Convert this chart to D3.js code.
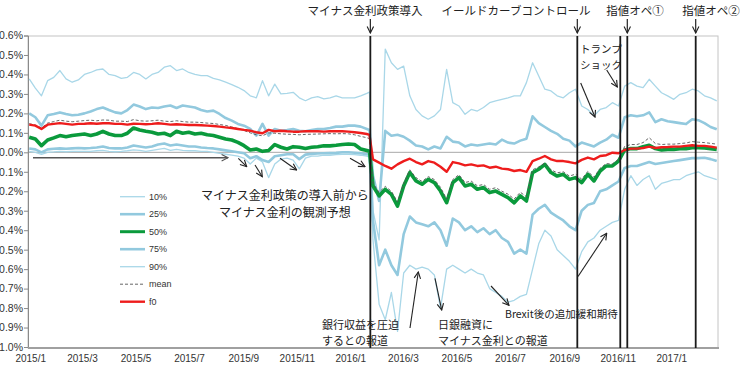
<!DOCTYPE html>
<html>
<head>
<meta charset="utf-8">
<script src="https://cdn.jsdelivr.net/npm/d3@7"></script>
<style>
  body { margin: 0; background: #fff; }
  svg { display: block; font-family: "Liberation Sans", Arial, sans-serif; }
  .jp { font-family: "Noto Sans CJK JP", sans-serif; fill: #222; }
</style>
</head>
<body>
<svg id="chart" width="741" height="389"></svg>
<script>
// weekly observations (plus the last day before the policy change)
var dates = [
  "2015/01/05","2015/01/12","2015/01/19","2015/01/26","2015/02/02","2015/02/09","2015/02/16","2015/02/23","2015/03/02","2015/03/09",
  "2015/03/16","2015/03/23","2015/03/30","2015/04/06","2015/04/13","2015/04/20","2015/04/27","2015/05/04","2015/05/11","2015/05/18",
  "2015/05/25","2015/06/01","2015/06/08","2015/06/15","2015/06/22","2015/06/29","2015/07/06","2015/07/13","2015/07/20","2015/07/27",
  "2015/08/03","2015/08/10","2015/08/17","2015/08/24","2015/08/31","2015/09/07","2015/09/14","2015/09/21","2015/09/28","2015/10/05",
  "2015/10/12","2015/10/19","2015/10/26","2015/11/02","2015/11/09","2015/11/16","2015/11/23","2015/11/30","2015/12/07","2015/12/14",
  "2015/12/21","2015/12/28","2016/01/04","2016/01/11","2016/01/18","2016/01/25","2016/01/28",
  "2016/02/01","2016/02/08","2016/02/15","2016/02/22","2016/02/29","2016/03/07","2016/03/14","2016/03/21","2016/03/28","2016/04/04",
  "2016/04/11","2016/04/18","2016/04/25","2016/05/02","2016/05/09","2016/05/16","2016/05/23","2016/05/30","2016/06/06","2016/06/13",
  "2016/06/20","2016/06/27","2016/07/04","2016/07/11","2016/07/18","2016/07/25","2016/08/01","2016/08/08","2016/08/15","2016/08/22",
  "2016/08/29","2016/09/05","2016/09/12","2016/09/19","2016/09/26","2016/10/03","2016/10/10","2016/10/17","2016/10/24","2016/10/31",
  "2016/11/07","2016/11/14","2016/11/21","2016/11/28","2016/12/05","2016/12/12","2016/12/19","2016/12/26","2017/01/02","2017/01/09",
  "2017/01/16","2017/01/23","2017/01/30","2017/02/06","2017/02/13","2017/02/20","2017/02/27"
];

var p10 = [
  0.005, 0.000, -0.010, 0.000, 0.002, 0.005, 0.003, 0.005, 0.005, 0.005,
  0.005, 0.008, 0.010, 0.005, 0.003, 0.005, 0.008, 0.012, 0.010, 0.005,
  0.010, 0.015, 0.020, 0.010, 0.015, 0.010, 0.008, 0.008, 0.005, 0.005,
  0.000, -0.005, -0.010, -0.015, -0.020, -0.030, -0.060, -0.030, -0.050, -0.130,
  -0.060, -0.035, -0.030, -0.040, -0.085, -0.030, -0.020, -0.020, -0.015, -0.015,
  -0.012, -0.010, -0.010, -0.012, -0.015, -0.020, -0.025,
  -0.450, -0.780, -0.860, -0.720, -0.920, -0.620, -0.580, -0.600, -0.590, -0.600,
  -0.630, -0.800, -0.600, -0.580, -0.600, -0.620, -0.600, -0.620, -0.630, -0.700,
  -0.720, -0.740, -0.770, -0.760, -0.740, -0.730, -0.600, -0.470, -0.400, -0.430,
  -0.500, -0.530, -0.560, -0.600, -0.510, -0.460, -0.440, -0.400, -0.380, -0.360,
  -0.350, -0.190, -0.120, -0.170, -0.140, -0.120, -0.190, -0.160, -0.150, -0.140,
  -0.140, -0.120, -0.110, -0.100, -0.120, -0.130, -0.140
];

var p25 = [
  0.020, 0.015, 0.000, 0.015, 0.018, 0.020, 0.018, 0.020, 0.022, 0.020,
  0.022, 0.025, 0.030, 0.022, 0.020, 0.020, 0.025, 0.035, 0.030, 0.025,
  0.030, 0.040, 0.045, 0.035, 0.040, 0.035, 0.030, 0.030, 0.025, 0.022,
  0.020, 0.015, 0.010, 0.005, 0.000, -0.005, -0.030, -0.020, -0.040, -0.050,
  -0.020, -0.015, -0.010, -0.010, -0.035, -0.012, -0.008, -0.006, -0.005, -0.004,
  -0.003, 0.000, 0.000, -0.002, -0.005, -0.010, -0.012,
  -0.350, -0.580, -0.500, -0.580, -0.630, -0.420, -0.330, -0.360, -0.370, -0.380,
  -0.360, -0.400, -0.480, -0.340, -0.360, -0.400, -0.380, -0.410, -0.390, -0.420,
  -0.400, -0.440, -0.460, -0.520, -0.500, -0.520, -0.320, -0.290, -0.270, -0.310,
  -0.330, -0.350, -0.380, -0.400, -0.300, -0.270, -0.260, -0.200, -0.190, -0.170,
  -0.150, -0.080, -0.070, -0.070, -0.060, -0.050, -0.060, -0.055, -0.050, -0.045,
  -0.040, -0.035, -0.030, -0.030, -0.028, -0.035, -0.045
];

var p50 = [
  0.077, 0.068, 0.034, 0.063, 0.074, 0.086, 0.080, 0.086, 0.090, 0.094,
  0.086, 0.094, 0.108, 0.094, 0.086, 0.086, 0.098, 0.125, 0.115, 0.108,
  0.103, 0.094, 0.098, 0.086, 0.108, 0.098, 0.103, 0.094, 0.098, 0.090,
  0.086, 0.077, 0.068, 0.063, 0.051, 0.034, 0.012, 0.017, 0.005, 0.009,
  0.040, 0.026, 0.017, 0.029, 0.026, 0.020, 0.026, 0.029, 0.034, 0.033,
  0.036, 0.040, 0.043, 0.040, 0.017, 0.009, 0.005,
  -0.173, -0.224, -0.190, -0.216, -0.276, -0.173, -0.104, -0.147, -0.164, -0.139,
  -0.156, -0.199, -0.259, -0.156, -0.130, -0.173, -0.164, -0.190, -0.181, -0.207,
  -0.199, -0.216, -0.233, -0.259, -0.224, -0.250, -0.104, -0.087, -0.062, -0.104,
  -0.122, -0.113, -0.139, -0.130, -0.156, -0.113, -0.147, -0.096, -0.070, -0.070,
  -0.045, 0.012, 0.019, 0.019, 0.029, 0.036, 0.019, 0.012, 0.015, 0.015,
  0.019, 0.019, 0.024, 0.024, 0.022, 0.019, 0.015
];

var p75 = [
  0.200, 0.180, 0.137, 0.190, 0.197, 0.205, 0.197, 0.190, 0.193, 0.200,
  0.210, 0.222, 0.230, 0.217, 0.205, 0.200, 0.217, 0.245, 0.235, 0.222,
  0.230, 0.228, 0.235, 0.240, 0.228, 0.240, 0.235, 0.230, 0.217, 0.210,
  0.214, 0.197, 0.176, 0.163, 0.146, 0.137, 0.120, 0.086, 0.146, 0.086,
  0.120, 0.111, 0.115, 0.120, 0.111, 0.108, 0.115, 0.120, 0.120, 0.125,
  0.132, 0.132, 0.137, 0.137, 0.132, 0.120, 0.115,
  -0.120, -0.250, 0.110, 0.085, 0.090, 0.080, 0.060, 0.035, 0.030, 0.015,
  0.030, 0.020, 0.080, 0.055, 0.050, 0.030, 0.040, 0.035, 0.040, 0.045,
  0.040, 0.065, 0.050, 0.045, 0.060, 0.070, 0.185, 0.150, 0.130, 0.110,
  0.095, 0.070, 0.060, 0.030, 0.050, 0.040, 0.030, 0.050, 0.065, 0.090,
  0.075, 0.180, 0.190, 0.185, 0.190, 0.205, 0.155, 0.170, 0.160, 0.155,
  0.150, 0.145, 0.170, 0.165, 0.150, 0.130, 0.118
];

var p90 = [
  0.377, 0.330, 0.290, 0.368, 0.385, 0.420, 0.377, 0.360, 0.372, 0.400,
  0.410, 0.423, 0.428, 0.400, 0.394, 0.380, 0.385, 0.410, 0.400, 0.377,
  0.400, 0.410, 0.437, 0.445, 0.420, 0.428, 0.410, 0.400, 0.394, 0.394,
  0.380, 0.372, 0.360, 0.348, 0.334, 0.317, 0.290, 0.280, 0.368, 0.290,
  0.350, 0.300, 0.303, 0.308, 0.280, 0.265, 0.280, 0.286, 0.274, 0.280,
  0.290, 0.280, 0.280, 0.280, 0.290, 0.303, 0.310,
  -0.300, -0.450, 0.530, 0.460, 0.426, 0.443, 0.290, 0.220, 0.187, 0.170,
  0.187, 0.220, 0.426, 0.255, 0.238, 0.195, 0.220, 0.212, 0.230, 0.255,
  0.264, 0.272, 0.280, 0.290, 0.290, 0.358, 0.460, 0.392, 0.324, 0.315,
  0.290, 0.280, 0.306, 0.324, 0.238, 0.220, 0.187, 0.220, 0.230, 0.255,
  0.238, 0.340, 0.358, 0.340, 0.332, 0.375, 0.340, 0.306, 0.290, 0.272,
  0.298, 0.306, 0.324, 0.315, 0.290, 0.280, 0.264
];

var meanVals = [
  0.147, 0.140, 0.125, 0.150, 0.158, 0.165, 0.160, 0.157, 0.160, 0.163,
  0.165, 0.162, 0.166, 0.165, 0.160, 0.160, 0.158, 0.168, 0.162, 0.160,
  0.162, 0.165, 0.160, 0.158, 0.162, 0.158, 0.155, 0.155, 0.153, 0.150,
  0.148, 0.143, 0.138, 0.130, 0.122, 0.112, 0.100, 0.090, 0.085, 0.100,
  0.098, 0.095, 0.093, 0.092, 0.090, 0.092, 0.093, 0.094, 0.095, 0.096,
  0.095, 0.096, 0.095, 0.090, 0.082, 0.075, 0.070,
  -0.160, -0.205, -0.175, -0.200, -0.255, -0.160, -0.090, -0.130, -0.150, -0.125,
  -0.140, -0.180, -0.240, -0.140, -0.115, -0.155, -0.148, -0.172, -0.165, -0.190,
  -0.182, -0.200, -0.215, -0.240, -0.205, -0.228, -0.090, -0.075, -0.055, -0.090,
  -0.105, -0.100, -0.122, -0.112, -0.138, -0.098, -0.128, -0.082, -0.058, -0.060,
  -0.035, 0.030, 0.040, 0.040, 0.050, 0.075, 0.045, 0.040, 0.042, 0.042,
  0.045, 0.048, 0.055, 0.052, 0.050, 0.046, 0.042
];

var f0 = [
  0.142, 0.137, 0.120, 0.142, 0.146, 0.150, 0.146, 0.142, 0.146, 0.147,
  0.149, 0.147, 0.149, 0.149, 0.146, 0.146, 0.142, 0.147, 0.146, 0.144,
  0.146, 0.149, 0.146, 0.142, 0.144, 0.142, 0.140, 0.140, 0.139, 0.137,
  0.135, 0.132, 0.128, 0.125, 0.120, 0.115, 0.111, 0.103, 0.098, 0.115,
  0.108, 0.111, 0.108, 0.106, 0.106, 0.108, 0.108, 0.108, 0.106, 0.108,
  0.108, 0.108, 0.106, 0.103, 0.099, 0.094, 0.090,
  -0.036, -0.053, -0.070, -0.084, -0.062, -0.045, -0.033, -0.050, -0.062, -0.045,
  -0.053, -0.074, -0.100, -0.050, -0.057, -0.067, -0.062, -0.070, -0.067, -0.079,
  -0.074, -0.084, -0.087, -0.096, -0.091, -0.100, -0.045, -0.033, -0.019, -0.036,
  -0.045, -0.045, -0.050, -0.057, -0.039, -0.027, -0.036, -0.019, -0.015, -0.002,
  -0.005, 0.012, 0.019, 0.019, 0.022, 0.029, 0.022, 0.026, 0.027, 0.029,
  0.029, 0.033, 0.036, 0.033, 0.033, 0.029, 0.024
];

var seriesNames = ["10%", "25%", "50%", "75%", "90%", "mean", "f0"];
var yTicks = [0.6, 0.5, 0.4, 0.3, 0.2, 0.1, 0.0, -0.1, -0.2, -0.3, -0.4, -0.5, -0.6, -0.7, -0.8, -0.9, -1.0];
var monthTicks = ["2015/1", "2015/3", "2015/5", "2015/7", "2015/9", "2015/11", "2016/1",
                  "2016/3", "2016/5", "2016/7", "2016/9", "2016/11", "2017/1"];

// policy events marked with vertical lines
var eventDates = ["2016/01/29", "2016/09/21", "2016/11/09", "2016/11/17", "2017/02/03"];
var topEvents = [
  {label: "マイナス金利政策導入", date: "2016/01/29"},
  {label: "イールドカーブコントロール", date: "2016/09/21"},
  {label: "指値オペ①", date: "2016/11/17"},
  {label: "指値オペ②", date: "2017/02/03"}
];

var parseDay = d3.timeParse("%Y/%m/%d");
var parseMonth = d3.timeParse("%Y/%m");

var svg = d3.select("#chart");
var plot = {left: 28, right: 718, top: 36, bottom: 348};

var x = d3.scaleTime()
    .domain([parseDay("2015/01/01"), parseDay("2017/03/01")])
    .range([25.7, 718.5]);
var y = d3.scaleLinear()
    .domain([-1.0, 0.6])
    .range([347, 35.5]);

var defs = svg.append("defs");
function marker(id, col) {
  defs.append("marker")
      .attr("id", id)
      .attr("viewBox", "0 0 10 10")
      .attr("refX", 9).attr("refY", 5)
      .attr("markerWidth", 8).attr("markerHeight", 8)
      .attr("markerUnits", "userSpaceOnUse")
      .attr("orient", "auto")
    .append("path")
      .attr("d", "M1,1 L9,5 L1,9")
      .attr("fill", "none")
      .attr("stroke", col)
      .attr("stroke-width", 1.4);
}
marker("ah", "#222");
marker("ahg", "#555");

// frame
svg.append("rect")
    .attr("x", plot.left).attr("y", plot.top)
    .attr("width", plot.right - plot.left).attr("height", plot.bottom - plot.top)
    .attr("fill", "none").attr("stroke", "#c4c4c4").attr("stroke-width", 1);

// zero line
svg.append("line")
    .attr("x1", plot.left).attr("x2", plot.right)
    .attr("y1", y(0)).attr("y2", y(0))
    .attr("stroke", "#a9a9a9").attr("stroke-width", 1);

// y axis (the source image crops the minus signs off the left edge)
var yAxis = svg.append("g")
    .attr("transform", "translate(" + plot.left + ",0)")
    .call(d3.axisLeft(y).tickValues(yTicks).tickSize(4).tickPadding(1)
      .tickFormat(function(d) { return Math.abs(d).toFixed(1) + "%"; }));
yAxis.select(".domain").attr("stroke", "#8a8a8a");
yAxis.selectAll(".tick line").attr("stroke", "#8a8a8a");
yAxis.selectAll("text").attr("font-size", "10.5px").attr("fill", "#333")
    .attr("font-family", "'Liberation Sans', Arial, sans-serif");

// x axis
var xAxis = svg.append("g")
    .attr("transform", "translate(0," + plot.bottom + ")")
    .call(d3.axisBottom(x)
      .tickValues(monthTicks.map(function(m) { return parseMonth(m); }))
      .tickSize(0).tickPadding(7)
      .tickFormat(d3.timeFormat("%Y/%-m")));
xAxis.select(".domain").attr("stroke", "#a0a0a0").attr("stroke-width", 2)
    .attr("d", "M" + plot.left + ",0H" + (plot.right + 1));
xAxis.selectAll("text").attr("font-size", "10px").attr("fill", "#333").attr("dx", 4.5)
    .attr("font-family", "'Liberation Sans', Arial, sans-serif");

// series
var dayDates = dates.map(function(d) { return parseDay(d); });
var seriesValues = {"10%": p10, "25%": p25, "50%": p50, "75%": p75, "90%": p90, "mean": meanVals, "f0": f0};
var styles = {
  "10%":  {stroke: "#a9d7e8", width: 1.3},
  "90%":  {stroke: "#a9d7e8", width: 1.3},
  "25%":  {stroke: "#92c9de", width: 2.6},
  "75%":  {stroke: "#92c9de", width: 2.6},
  "50%":  {stroke: "#0a9a3c", width: 3.6},
  "mean": {stroke: "#555", width: 0.9, dash: "3,2"},
  "f0":   {stroke: "#ee1c1c", width: 2.4}
};
var drawOrder = ["10%", "90%", "25%", "75%", "50%", "mean", "f0"];

var line = d3.line()
    .defined(function(d) { return d.v != null && !isNaN(d.v); })
    .x(function(d) { return x(d.date); })
    .y(function(d) { return y(d.v); });

drawOrder.forEach(function(name) {
  var vals = seriesValues[name];
  var pts = dayDates.map(function(dt, i) { return {date: dt, v: vals[i]}; });
  var st = styles[name];
  svg.append("path")
      .datum(pts)
      .attr("fill", "none")
      .attr("stroke", st.stroke)
      .attr("stroke-width", st.width)
      .attr("stroke-linejoin", "round")
      .attr("stroke-dasharray", st.dash || null)
      .attr("d", line);
});

// event lines
svg.selectAll(".ev")
    .data(eventDates)
  .enter().append("line")
    .attr("class", "ev")
    .attr("x1", function(d) { return x(parseDay(d)); })
    .attr("x2", function(d) { return x(parseDay(d)); })
    .attr("y1", plot.top).attr("y2", plot.bottom)
    .attr("stroke", "#1a1a1a").attr("stroke-width", 1.8);

// top labels + arrows
var topPos = {"マイナス金利政策導入": 365, "イールドカーブコントロール": 516, "指値オペ①": 635, "指値オペ②": 711};
topEvents.forEach(function(e) {
  var ex = x(parseDay(e.date));
  svg.append("text").attr("class", "jp")
      .attr("x", topPos[e.label]).attr("y", 15)
      .attr("text-anchor", "middle").attr("font-size", "11.5px")
      .text(e.label);
  svg.append("line")
      .attr("x1", ex).attr("x2", ex).attr("y1", 19).attr("y2", 33)
      .attr("stroke", "#222").attr("stroke-width", 1.2)
      .attr("marker-end", "url(#ah)");
});

// annotation texts
var notes = [
  {lines: ["トランプ", "ショック"], x: 580, y: 53, gap: 15.5, s: 10.5, a: "start"},
  {lines: ["マイナス金利政策の導入前から", "マイナス金利の観測予想"], x: 285, y: 199.5, gap: 17.6, s: 12, a: "middle"},
  {lines: ["銀行収益を圧迫", "するとの報道"], x: 322, y: 328.5, gap: 16, s: 11, a: "start"},
  {lines: ["日銀融資に", "マイナス金利との報道"], x: 438, y: 328.5, gap: 16, s: 11, a: "start"},
  {lines: ["Brexit後の追加緩和期待"], x: 505, y: 318, gap: 0, s: 10.5, a: "start"}
];
notes.forEach(function(n) {
  n.lines.forEach(function(s, i) {
    svg.append("text").attr("class", "jp")
        .attr("x", n.x).attr("y", n.y + i * n.gap)
        .attr("text-anchor", n.a)
        .attr("font-size", n.s + "px")
        .text(s);
  });
});

// annotation arrows [x1, y1, x2, y2]
var arrows = [
  [580.7, 83, 595, 117],
  [606.7, 70, 617.3, 87],
  [238.3, 158.3, 246.7, 166.7],
  [255, 165, 262.3, 176.7],
  [280, 158.3, 296.7, 170],
  [350, 158.3, 365, 166.7],
  [410, 328, 418.3, 272],
  [435, 278.3, 441.7, 310],
  [491, 286, 509, 305.3],
  [578, 276.5, 606.7, 233.3]
];
svg.selectAll(".arr")
    .data(arrows)
  .enter().append("line")
    .attr("class", "arr")
    .attr("x1", function(d) { return d[0]; })
    .attr("y1", function(d) { return d[1]; })
    .attr("x2", function(d) { return d[2]; })
    .attr("y2", function(d) { return d[3]; })
    .attr("stroke", "#222").attr("stroke-width", 1.1)
    .attr("marker-end", "url(#ah)");

svg.append("line")
    .attr("x1", 33).attr("y1", 157.7).attr("x2", 228).attr("y2", 157.7)
    .attr("stroke", "#555").attr("stroke-width", 1.6)
    .attr("marker-end", "url(#ahg)");

// legend
var legend = svg.append("g").attr("transform", "translate(120,196.7)");
seriesNames.forEach(function(name, i) {
  var st = styles[name];
  var g = legend.append("g").attr("transform", "translate(0," + (i * 17.5) + ")");
  g.append("line")
      .attr("x1", 0).attr("x2", 25).attr("y1", 0).attr("y2", 0)
      .attr("stroke", st.stroke)
      .attr("stroke-width", Math.min(st.width, 3))
      .attr("stroke-dasharray", st.dash || null);
  g.append("text")
      .attr("x", 29).attr("y", 3.2)
      .attr("font-size", "9px").attr("fill", "#333")
      .text(name);
});
</script>
</body>
</html>
